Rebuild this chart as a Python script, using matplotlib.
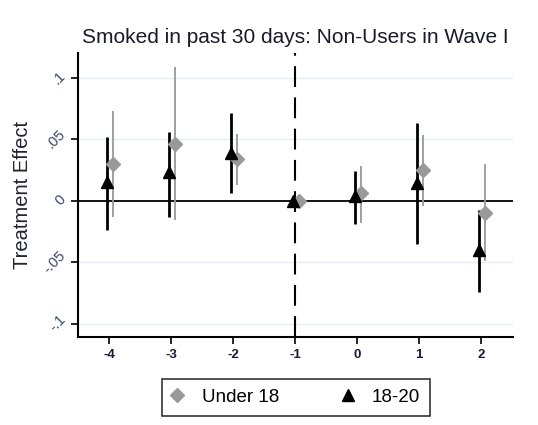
import numpy as np
import matplotlib
matplotlib.use("Agg")
import matplotlib.pyplot as plt

plt.rcParams['font.family'] = ['Liberation Sans', 'DejaVu Sans']

# event time
periods = [-4, -3, -2, -1, 0, 1, 2]

# Under 18 (grey diamonds)
u18_est = [0.030, 0.046, 0.034, 0.000, 0.006, 0.025, -0.010]
u18_lo = [-0.013, -0.016, 0.013, 0.000, -0.018, -0.004, -0.049]
u18_hi = [0.073, 0.109, 0.054, 0.000, 0.028, 0.053, 0.030]

# 18-20 (black triangles)
a1820_est = [0.015, 0.023, 0.039, 0.000, 0.004, 0.014, -0.040]
a1820_lo = [-0.024, -0.013, 0.006, 0.000, -0.019, -0.035, -0.074]
a1820_hi = [0.052, 0.056, 0.071, 0.000, 0.024, 0.063, -0.008]

xtick_labels = ['-4', '-3', '-2', '-1', '0', '1', '2']
ytick_vals = [-0.1, -0.05, 0, 0.05, 0.1]
ytick_labels = ['-.1', '-.05', '0', '.05', '.1']

fig = plt.figure(figsize=(5.38, 4.25), dpi=100)
ax = fig.add_axes([0.145, 0.207, 0.8085, 0.668])

x = np.array(periods, dtype=float)

# grid lines
for v in [-0.1, -0.05, 0.05, 0.1]:
    ax.axhline(v, color='#e4eef2', lw=1, zorder=0)
ax.axhline(0, color='black', lw=1.3, zorder=1)
ax.axvline(-1, color='black', lw=1.5, ls=(0, (10, 5)), zorder=1)

# confidence intervals
ax.vlines(x - 0.03, a1820_lo, a1820_hi, color='black', lw=2, zorder=2)
ax.vlines(x + 0.07, u18_lo, u18_hi, color='#999999', lw=1.3, zorder=2)

ax.plot(x + 0.07, u18_est, ls='none', marker='D', ms=7, color='#999999',
        label='Under 18', zorder=3)
ax.plot(x - 0.03, a1820_est, ls='none', marker='^', ms=8, color='black',
        label='18-20', zorder=4)

ax.set_xlim(-4.5, 2.52)
ax.set_ylim(-0.111, 0.120)
ax.set_xticks(periods)
ax.set_xticklabels(xtick_labels, fontsize=9.5, fontweight='bold', color='#1a1a3a')
ax.set_yticks(ytick_vals)
ax.set_yticklabels(ytick_labels, fontsize=10.5, rotation=45, color='#3a4a6a',
                   va='center', ha='right')
ax.tick_params(axis='both', direction='out', length=5, width=1.2, color='black')
ax.tick_params(axis='y', pad=2)

for s in ['top', 'right']:
    ax.spines[s].set_visible(False)
for s in ['left', 'bottom']:
    ax.spines[s].set_linewidth(1.5)

ax.set_ylabel('Treatment Effect', fontsize=14.5, color='#222233', labelpad=6)
ax.set_title('Smoked in past 30 days: Non-Users in Wave I', fontsize=15,
             color='#1a1a2a', pad=7)

leg = fig.legend(loc='center', bbox_to_anchor=(0.551, 0.065),
                 ncol=2, frameon=True, fancybox=False, edgecolor='black',
                 fontsize=13.5, columnspacing=3.4, handletextpad=1.05,
                 borderpad=0.55, handlelength=0.5)
leg.get_frame().set_linewidth(1.2)

fig.savefig('out.png', dpi=100)
